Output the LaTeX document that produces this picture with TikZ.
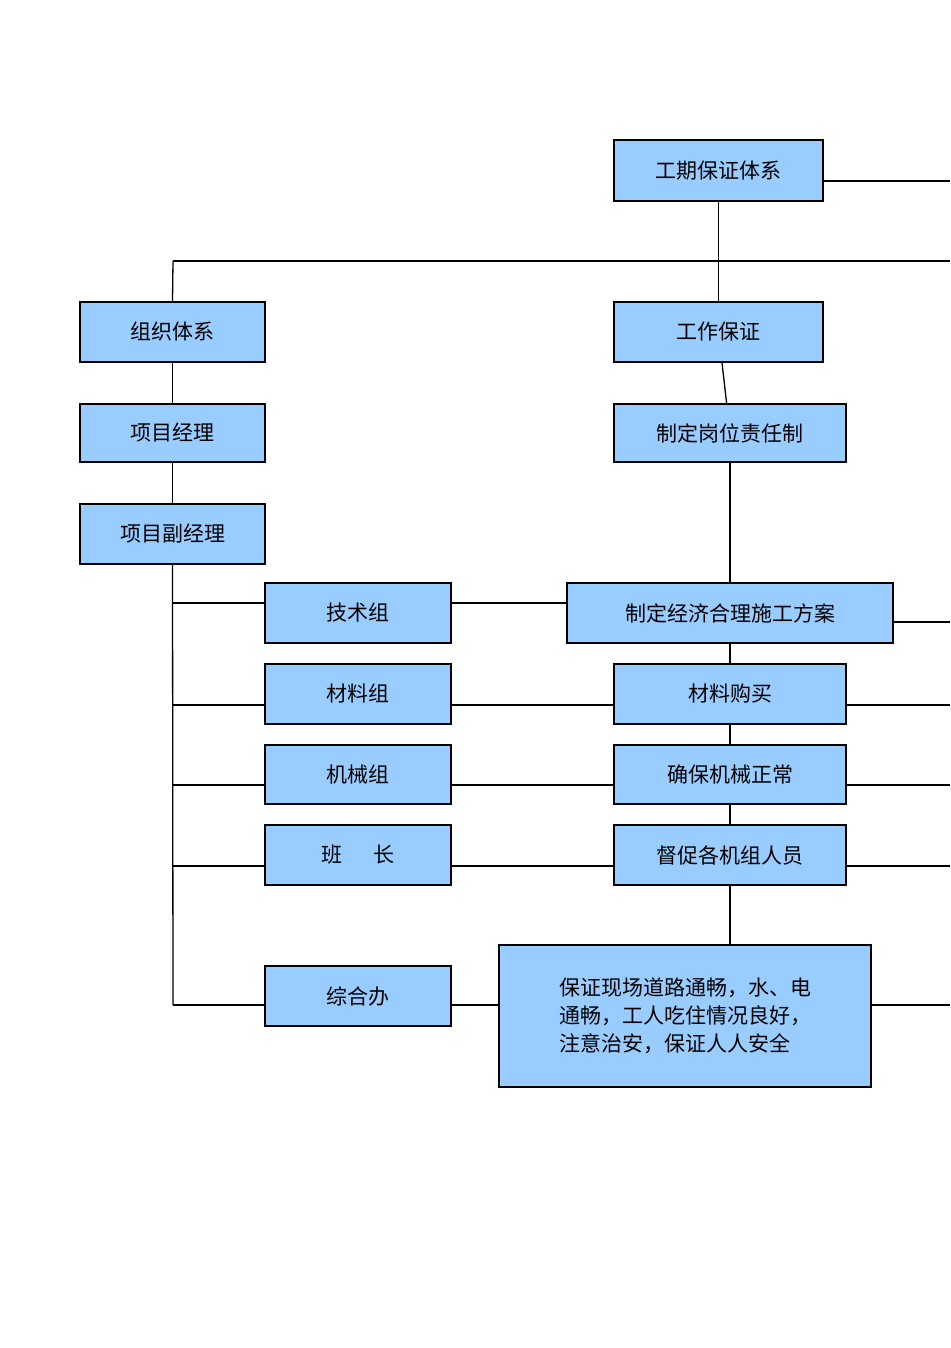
\documentclass[tikz,border=0pt]{standalone}
\usepackage{fontspec}
\newfontfamily\cjk{Noto Sans CJK SC}
\begin{document}
\begin{tikzpicture}[x=1pt,y=-1pt,
 box/.style={draw=black,line width=1.3pt,fill=boxblue,inner sep=0pt,font=\cjk\fontsize{21}{28}\selectfont},
 ln/.style={line width=1.3pt}]
\definecolor{boxblue}{HTML}{99CCFF}
\useasboundingbox (0,0) rectangle (950,1348);
\def\bx#1#2#3#4#5#6{\node[box,minimum width=#4-#2,minimum height=#5-#3] (#1) at ({(#2+#4)/2},{(#3+#5)/2}) {#6};}
\bx{a}{614}{140}{823}{201}{工期保证体系}
\bx{b}{80}{302}{265}{362}{组织体系}
\bx{c}{614}{302}{823}{362}{工作保证}
\bx{d}{80}{404}{265}{462}{项目经理}
\bx{e}{614}{404}{846}{462}{制定岗位责任制}
\bx{f}{80}{504}{265}{564}{项目副经理}
\bx{g1}{265}{583}{451}{643}{技术组}
\bx{h1}{567}{583}{893}{643}{制定经济合理施工方案}
\bx{g2}{265}{664}{451}{724}{材料组}
\bx{h2}{614}{664}{846}{724}{材料购买}
\bx{g3}{265}{745}{451}{804}{机械组}
\bx{h3}{614}{745}{846}{804}{确保机械正常}
\bx{g4}{265}{825}{451}{885}{班\hspace{1.5em}长}
\bx{h4}{614}{825}{846}{885}{督促各机组人员}
\bx{g5}{265}{966}{451}{1026}{综合办}
\node[box,minimum width=372,minimum height=142,align=left] (h5) at (685,1016) {保证现场道路通畅，水、电\\通畅，工人吃住情况良好，\\注意治安，保证人人安全};
\coordinate (ra) at (950,181); \coordinate (rt) at (950,261); \coordinate (lt) at (173,261);
\coordinate (r1) at (950,622); \coordinate (r2) at (950,705); \coordinate (r3) at (950,785);
\coordinate (r4) at (950,866); \coordinate (r5) at (950,1005); \coordinate (lb) at (173,1005);
\draw[ln] (a.east|-ra) -- (ra);
\draw[ln] (lt) -- (rt);
\draw[ln] (lt) -- (b.north);
\draw[ln] (a) -- (c);
\draw[ln] (b) -- (d); \draw[ln] (d) -- (f);
\draw[ln] (c) -- (e); \draw[ln] (e) -- (e|-h1.north);
\draw[ln] (f.south) -- (lb);
\foreach \i/\y in {1/603,2/705,3/785,4/866,5/1005}{
 \draw[ln] (173,\y) -- (g\i.west|-0,\y);
 \draw[ln] (g\i.east|-0,\y) -- (h\i.west|-0,\y);
}
\draw[ln] (h1.east|-r1) -- (r1);
\foreach \i in {2,3,4,5}{\draw[ln] (h\i.east|-r\i) -- (r\i);}
\draw[ln] (730,643) -- (h2); \draw[ln] (h2) -- (h3); \draw[ln] (h3) -- (h4); \draw[ln] (h4) -- (h4|-h5.north);
\end{tikzpicture}
\end{document}
